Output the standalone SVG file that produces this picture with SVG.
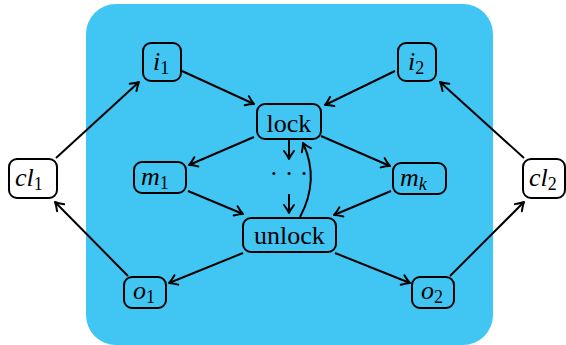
<svg xmlns="http://www.w3.org/2000/svg" width="566" height="345" viewBox="0 0 566 345">
<defs>
<marker id="arr" markerUnits="userSpaceOnUse" markerWidth="16" markerHeight="16" viewBox="-10 -8 12 16" refX="0" refY="0" orient="auto">
<path d="M -8 -5 Q -3 -1.2 0 0 Q -3 1.2 -8 5" fill="none" stroke="#000" stroke-width="2" stroke-linecap="round" stroke-linejoin="round"/>
</marker>
<style>
.box{fill:none;stroke:#000;stroke-width:2}
.wbox{fill:#fff;stroke:#000;stroke-width:2}
.e{fill:none;stroke:#000;stroke-width:2;marker-end:url(#arr)}
text{font-family:'Liberation Serif','DejaVu Serif','Times New Roman',Times,serif;font-size:26px;fill:#000}
.t{text-anchor:middle}
.m{font-style:italic}
.s{font-size:18px;font-style:normal}
.si{font-size:18px;font-style:italic}
</style>
</defs>
<rect x="86" y="4" width="407" height="341" rx="30" fill="#41C6F4"/>
<g id="connectors">
<line class="e" x1="56" y1="158" x2="139" y2="82"/>
<line class="e" x1="182" y1="71" x2="254" y2="104"/>
<line class="e" x1="254" y1="137" x2="189" y2="165"/>
<line class="e" x1="188" y1="191" x2="243" y2="214"/>
<line class="e" x1="243" y1="253" x2="169" y2="283"/>
<line class="e" x1="128" y1="276" x2="55" y2="202"/>
<line class="e" x1="395" y1="71" x2="325" y2="105"/>
<line class="e" x1="321" y1="136" x2="390" y2="166"/>
<line class="e" x1="391" y1="191" x2="334" y2="215"/>
<line class="e" x1="335" y1="253" x2="410" y2="283"/>
<line class="e" x1="450" y1="276" x2="524" y2="202"/>
<line class="e" x1="524" y1="158" x2="440" y2="82"/>
<line class="e" x1="289" y1="140" x2="289" y2="159"/>
<line class="e" x1="289" y1="194" x2="289" y2="213"/>
<path class="e" d="M 300 217 Q 320 180 303 143"/>
</g>
<g id="cl1"><rect class="wbox" x="9" y="159" width="48" height="39" rx="8"/><text class="m" x="15" y="186">cl<tspan class="s" dy="4">1</tspan></text></g>
<g id="i1"><rect class="box" x="143" y="43" width="38" height="38" rx="8"/><text class="m" x="153" y="70">i<tspan class="s" dy="4">1</tspan></text></g>
<g id="m1"><rect class="box" x="134" y="162" width="52" height="31" rx="8"/><text class="m" x="141" y="185">m<tspan class="s" dy="4">1</tspan></text></g>
<g id="lock"><rect class="box" x="257" y="104" width="64" height="35" rx="8"/><text class="t" x="289" y="132">lock</text></g>
<g id="dots"><text class="t" x="289" y="182">· · ·</text></g>
<g id="unlock"><rect class="box" x="243" y="218" width="93" height="34" rx="8"/><text class="t" x="289.5" y="244">unlock</text></g>
<g id="o1"><rect class="box" x="124" y="277" width="42" height="31" rx="8"/><text class="m" x="133" y="299">o<tspan class="s" dy="4">1</tspan></text></g>
<g id="i2"><rect class="box" x="398" y="43" width="38" height="38" rx="8"/><text class="m" x="408" y="70">i<tspan class="s" dy="4">2</tspan></text></g>
<g id="mk"><rect class="box" x="393" y="163" width="53" height="31" rx="8"/><text class="m" x="400" y="186">m<tspan class="si" dy="4">k</tspan></text></g>
<g id="cl2"><rect class="wbox" x="523" y="159" width="42" height="39" rx="8"/><text class="m" x="529" y="186">cl<tspan class="s" dy="4">2</tspan></text></g>
<g id="o2"><rect class="box" x="412" y="277" width="42" height="31" rx="8"/><text class="m" x="421" y="299">o<tspan class="s" dy="4">2</tspan></text></g>
</svg>
